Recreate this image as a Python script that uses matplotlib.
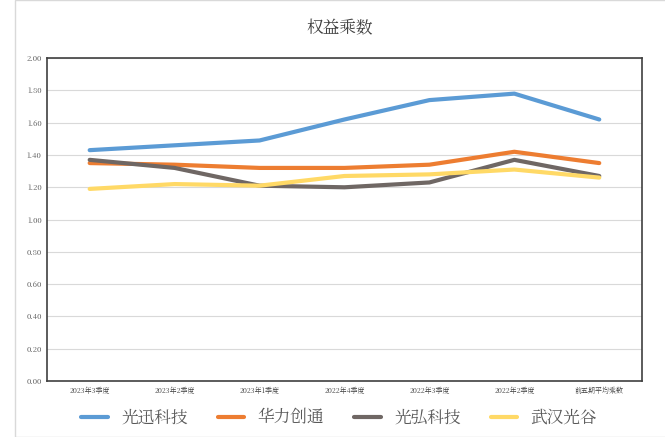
import matplotlib
matplotlib.use('Agg')
import matplotlib.pyplot as plt
from matplotlib import font_manager
from matplotlib.patches import Rectangle

# pick an installed CJK font by file, falling back to family names
cjk = [f for f in font_manager.findSystemFonts() if 'CJK' in f or 'cjk' in f.lower()]
if cjk:
    font_manager.fontManager.addfont(cjk[0])
    fam = font_manager.FontProperties(fname=cjk[0]).get_name()
else:
    fam = 'Noto Sans CJK SC'
plt.rcParams['font.family'] = [fam, 'DejaVu Sans']

categories = ['2023年3季度', '2023年2季度', '2023年1季度', '2022年4季度',
              '2022年3季度', '2022年2季度', '前五期平均乘数']
guangxun = [1.43, 1.46, 1.49, 1.62, 1.74, 1.78, 1.62]
huali = [1.35, 1.34, 1.32, 1.32, 1.34, 1.42, 1.35]
guanghong = [1.37, 1.32, 1.21, 1.20, 1.23, 1.37, 1.27]
wuhan = [1.19, 1.22, 1.21, 1.27, 1.28, 1.31, 1.26]
yticks = [0.0, 0.2, 0.4, 0.6, 0.8, 1.0, 1.2, 1.4, 1.6, 1.8, 2.0]

series = [('光迅科技', guangxun, '#5B9BD5'),
          ('华力创通', huali, '#ED7D31'),
          ('光弘科技', guanghong, '#6F6764'),
          ('武汉光谷', wuhan, '#FFD966')]

fig = plt.figure(figsize=(6.65, 4.37), dpi=100)
fig.patches.append(Rectangle((0.022, 0.0), 0.98, 1.0, transform=fig.transFigure,
                             fill=False, edgecolor='#d9d9d9', lw=1))
ax = fig.add_axes([0.071, 0.128, 0.894, 0.739])

x = range(len(categories))
for name, vals, color in series:
    ax.plot(x, vals, color=color, lw=3, label=name, solid_capstyle='round')

ax.set_ylim(0, 2.0)
ax.set_xlim(-0.5, len(categories) - 0.5)
ax.set_yticks(yticks)
ax.set_yticklabels([f'{v:.2f}' for v in yticks], fontsize=5.5, color='#595959')
ax.set_xticks(list(x))
ax.set_xticklabels(categories, fontsize=5, color='#404040')
ax.tick_params(length=0, pad=4)
ax.grid(axis='y', color='#d9d9d9', lw=0.8)
ax.set_axisbelow(True)
for s in ax.spines.values():
    s.set_color('#404040')
    s.set_linewidth(1.2)

fig.text(0.51, 0.935, '权益乘数', ha='center', va='center', fontsize=12, color='#404040')
fig.legend(loc='lower center', bbox_to_anchor=(0.51, -0.01), ncol=4, frameon=False,
           fontsize=12, handlelength=1.6, columnspacing=1.8, labelcolor='#595959')

fig.savefig('out.png', dpi=100)
